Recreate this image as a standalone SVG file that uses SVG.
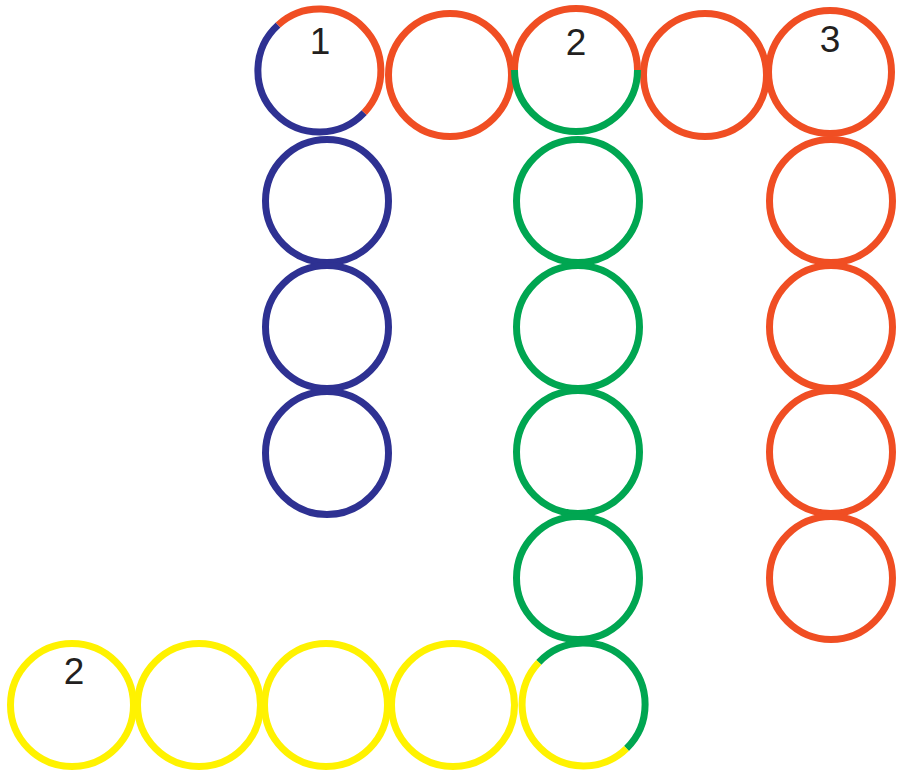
<svg xmlns="http://www.w3.org/2000/svg" width="898" height="776" viewBox="0 0 898 776">
<style>
.r{fill:none;stroke-width:7}
.o{stroke:#F04E23}
.b{stroke:#2E3192}
.g{stroke:#00A651}
.y{stroke:#FFF200}
.t{font-family:"Liberation Sans",Arial,sans-serif;font-size:37px;fill:#231F20;text-anchor:middle}
</style>
<rect width="898" height="776" fill="#fff"/>
<g id="yellow-row">
<circle class="r y" cx="72" cy="705" r="61.5"/>
<circle class="r y" cx="199" cy="705" r="61.5"/>
<circle class="r y" cx="326" cy="705" r="61.5"/>
<circle class="r y" cx="453" cy="705" r="61.5"/>
</g>
<g id="blue-column">
<circle class="r b" cx="327" cy="201" r="61.5"/>
<circle class="r b" cx="327" cy="327" r="61.5"/>
<circle class="r b" cx="327" cy="453" r="61.5"/>
</g>
<g id="green-column">
<circle class="r g" cx="578" cy="201" r="61.5"/>
<circle class="r g" cx="578" cy="327" r="61.5"/>
<circle class="r g" cx="578" cy="452" r="61.5"/>
<circle class="r g" cx="578" cy="578" r="61.5"/>
</g>
<g id="red-column">
<circle class="r o" cx="831" cy="201" r="61.5"/>
<circle class="r o" cx="831" cy="327" r="61.5"/>
<circle class="r o" cx="831" cy="452" r="61.5"/>
<circle class="r o" cx="831" cy="578" r="61.5"/>
</g>
<g id="node-1">
<path class="r b" d="M364.2,112.7 A61.5,61.5 0 1 1 278.1,25.0"/>
<path class="r o" d="M278.1,25.0 A61.5,61.5 0 0 1 364.2,112.7"/>
<text class="t" x="320" y="54">1</text>
</g>
<g id="top-row">
<circle class="r o" cx="450" cy="75" r="61.5"/>
<circle class="r o" cx="705" cy="75" r="61.5"/>
</g>
<g id="node-2-top">
<path class="r o" d="M514.5,70 A61.5,61.5 0 0 1 637.5,70"/>
<path class="r g" d="M637.5,70 A61.5,61.5 0 0 1 514.5,70"/>
<text class="t" x="576" y="55">2</text>
</g>
<g id="node-3">
<circle class="r o" cx="830" cy="72" r="61.5"/>
<text class="t" x="830" y="52">3</text>
</g>
<g id="node-2-bottom">
<path class="r g" d="M538.8,662.3 A61.5,61.5 0 1 1 626.5,748.5"/>
<path class="r y" d="M626.5,748.5 A61.5,61.5 0 0 1 538.8,662.3"/>
</g>
<g id="label-2-bottom">
<text class="t" x="74" y="684">2</text>
</g>
<g id="connectors"></g>
</svg>
